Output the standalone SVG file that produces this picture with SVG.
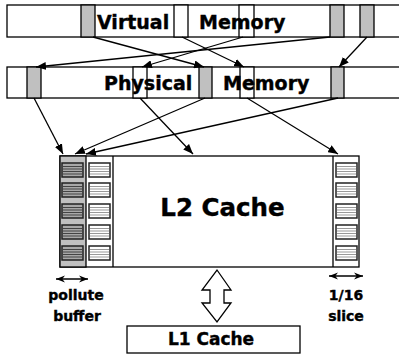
<svg xmlns="http://www.w3.org/2000/svg" width="399" height="354" viewBox="0 0 399 354">
<defs>
<style>
.bar{fill:#fff;stroke:#000;stroke-width:1.3}
.g{fill:#c0c0c0;stroke:#000;stroke-width:1.3}
.w{fill:#fff;stroke:#000;stroke-width:1.3}
.t{font-family:"DejaVu Sans",Verdana,sans-serif;font-weight:bold;fill:#000;stroke:#000;stroke-width:0.4}
.c{stroke:#000;stroke-width:1.3;fill:none;marker-end:url(#ah)}
.dc{stroke:#000;stroke-width:1.5;fill:none;marker-start:url(#ah2);marker-end:url(#ah2)}
.cd{fill:#a8a8a8;stroke:#222;stroke-width:1.5}
.cw{fill:#fff;stroke:#222;stroke-width:1.5}
.sd{stroke:#444;stroke-width:1}
.sw{stroke:#999;stroke-width:1}
</style>
<marker id="ah" viewBox="0 0 10 8" refX="10" refY="4" markerWidth="10" markerHeight="8" markerUnits="userSpaceOnUse" orient="auto"><path d="M0,0 L10,4 L0,8 z" fill="#000"/></marker>
<marker id="ah2" viewBox="0 0 10 8" refX="10" refY="4" markerWidth="9" markerHeight="8" markerUnits="userSpaceOnUse" orient="auto-start-reverse"><path d="M0,0 L10,4 L0,8 L3,4 z" fill="#000"/></marker>
<g id="cd"><rect class="cd" x="0" y="0" width="21" height="14"/><path class="sd" d="M1,3.5H20M1,6H20M1,8.5H20M1,11H20"/></g>
<g id="cw"><rect class="cw" x="0" y="0" width="21" height="14"/><path class="sw" d="M1,3.5H20M1,6H20M1,8.5H20M1,11H20"/></g>
</defs>
<rect width="399" height="354" fill="#fff"/>

<g id="virtual-memory">
<rect class="bar" x="7" y="5" width="400" height="32"/>
<rect class="g" x="81" y="5" width="14" height="32"/>
<rect class="w" x="174" y="5" width="14" height="32"/>
<rect class="w" x="239" y="5" width="15" height="32"/>
<rect class="g" x="330" y="5" width="14" height="32"/>
<rect class="g" x="360" y="5" width="14" height="32"/>
<text class="t" x="97" y="29" font-size="19">Virtual</text>
<text class="t" x="199" y="29" font-size="19">Memory</text>
</g>

<g id="physical-memory">
<rect class="bar" x="7" y="67" width="400" height="31"/>
<rect class="g" x="27" y="67" width="14" height="31"/>
<rect class="w" x="133" y="67" width="14" height="31"/>
<rect class="g" x="199" y="67" width="13" height="31"/>
<rect class="w" x="240" y="67" width="14" height="31"/>
<rect class="g" x="331" y="67" width="13" height="31"/>
<text class="t" x="104" y="90" font-size="19">Physical</text>
<text class="t" x="223" y="90" font-size="19">Memory</text>
</g>

<g id="l2-cache">
<rect class="w" x="60" y="156" width="299" height="111"/>
<rect x="60" y="156" width="26" height="111" fill="#c0c0c0" stroke="#000" stroke-width="1.3"/>
<line x1="113" y1="156" x2="113" y2="267" stroke="#000" stroke-width="1.3"/>
<line x1="333" y1="156" x2="333" y2="267" stroke="#000" stroke-width="1.3"/>
<use href="#cd" x="62" y="163"/><use href="#cd" x="62" y="183"/><use href="#cd" x="62" y="204"/><use href="#cd" x="62" y="225"/><use href="#cd" x="62" y="246"/>
<use href="#cw" x="89" y="163"/><use href="#cw" x="89" y="183"/><use href="#cw" x="89" y="204"/><use href="#cw" x="89" y="225"/><use href="#cw" x="89" y="246"/>
<use href="#cw" x="336" y="163"/><use href="#cw" x="336" y="183"/><use href="#cw" x="336" y="204"/><use href="#cw" x="336" y="225"/><use href="#cw" x="336" y="246"/>
<text class="t" x="222.5" y="216" font-size="24.5" text-anchor="middle">L2 Cache</text>
</g>

<g id="l1-cache">
<rect class="w" x="127" y="326" width="173" height="27"/>
<text class="t" x="211" y="345" font-size="17" text-anchor="middle">L1 Cache</text>
</g>

<g id="pollute-label">
<line class="dc" x1="56" y1="279" x2="88" y2="279"/>
<text class="t" x="76" y="300" font-size="14" text-anchor="middle">pollute</text>
<text class="t" x="77" y="321" font-size="14" text-anchor="middle">buffer</text>
</g>

<g id="slice-label">
<line class="dc" x1="329" y1="276" x2="363" y2="276"/>
<text class="t" x="346" y="300" font-size="14" text-anchor="middle">1/16</text>
<text class="t" x="346" y="321" font-size="14" text-anchor="middle">slice</text>
</g>

<g id="connectors">
<line class="c" x1="93" y1="37" x2="204" y2="67"/>
<line class="c" x1="182" y1="37" x2="244" y2="67"/>
<line class="c" x1="243" y1="37" x2="142" y2="67"/>
<line class="c" x1="330" y1="37" x2="36" y2="67"/>
<line class="c" x1="367" y1="37" x2="339" y2="67"/>
<line class="c" x1="34" y1="98" x2="63" y2="154"/>
<line class="c" x1="205" y1="98" x2="75" y2="154"/>
<line class="c" x1="338" y1="98" x2="86" y2="154"/>
<line class="c" x1="140" y1="98" x2="193" y2="154"/>
<line class="c" x1="247" y1="98" x2="338" y2="154"/>
<polygon points="217,270 231,290 224,290 224,303 231,303 217,322 202,303 210,303 210,290 202,290" fill="#fff" stroke="#000" stroke-width="1.3"/>
</g>
</svg>
